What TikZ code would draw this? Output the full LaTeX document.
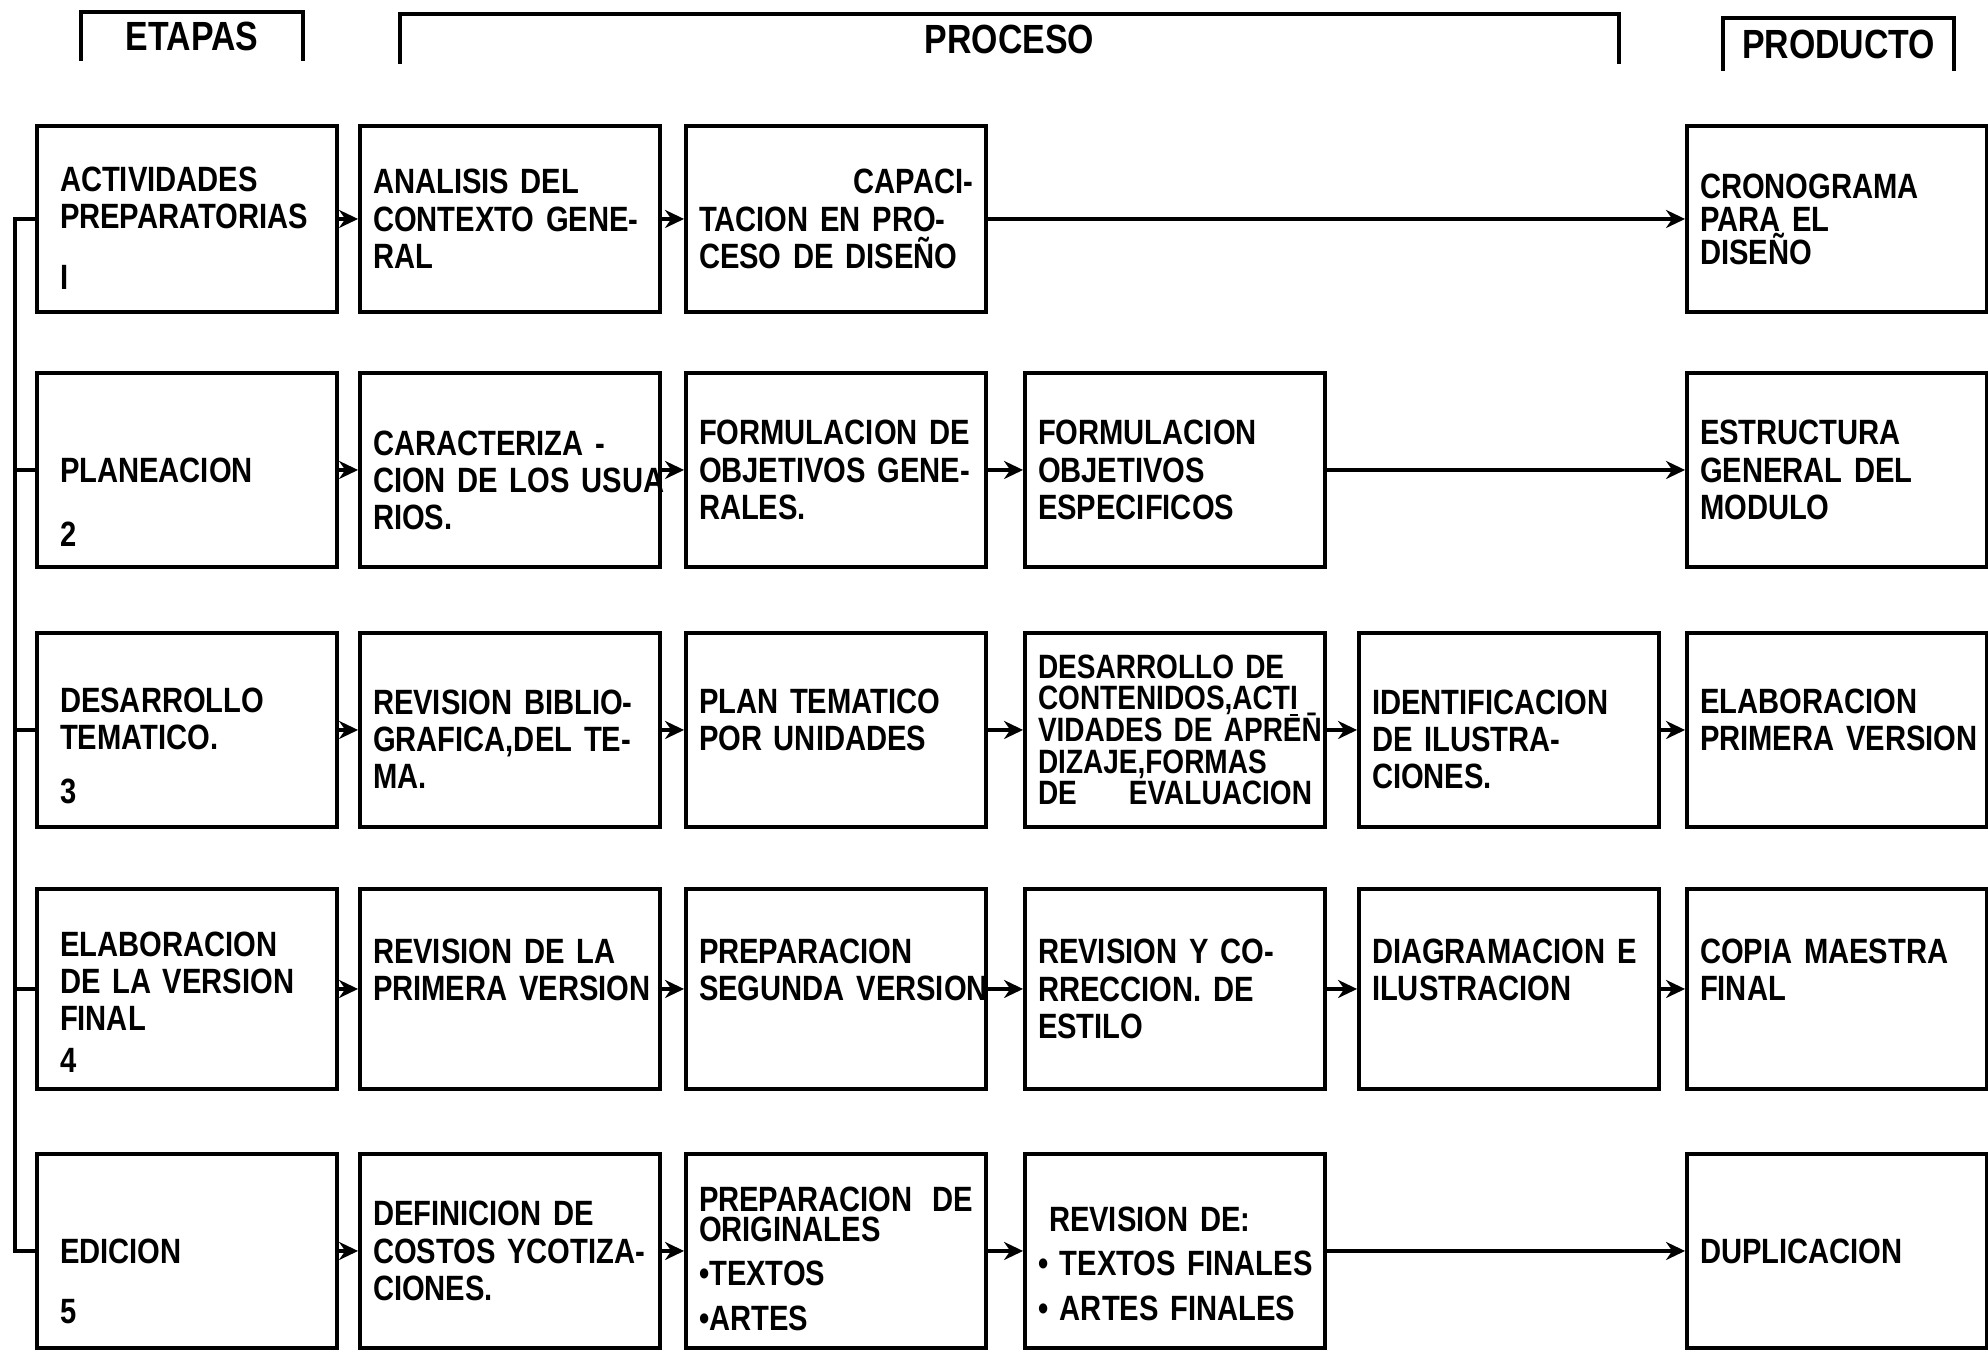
\documentclass[tikz,border=0pt]{standalone}
\usepackage{fontspec}
\usetikzlibrary{arrows.meta}
\newfontfamily\boxfont{Liberation Sans}[FakeStretch=0.83]
\uchyph=0
\hyphenpenalty=10000

\tikzset{
    box/.style={draw, line width=1.1pt, minimum height=1.94cm, text width=2.74cm,
        inner xsep=0.13cm, align=left, font=\boxfont\bfseries\fontsize{10}{10.6}\selectfont},
    etapa/.style={box, text width=2.54cm, inner xsep=0.23cm},
    num/.style={anchor=south west, inner sep=0pt, font=\boxfont\bfseries\fontsize{10}{10.6}\selectfont},
    head/.style={inner sep=0pt, font=\boxfont\bfseries\fontsize{11.6}{12}\selectfont},
    flow/.style={line width=1pt, -{Stealth[length=1.9mm,width=1.8mm]}},
    bus/.style={line width=1.1pt},
}

\begin{document}
\begin{tikzpicture}

    \useasboundingbox (0,0) rectangle (19.88,13.52);

    % encabezados
    \node[head, minimum width=2.2cm, minimum height=0.47cm] (hE) at (1.92,13.155) {ETAPAS};
    \node[head, minimum width=12.17cm, minimum height=0.48cm] (hP) at (10.095,13.13) {PROCESO};
    \node[head, minimum width=2.29cm, minimum height=0.51cm] (hR) at (18.385,13.075) {PRODUCTO};
    \draw[bus] (hE.south west) |- (hE.north east) -- (hE.south east);
    \draw[bus] (hP.south west) |- (hP.north east) -- (hP.south east);
    \draw[bus] (hR.south west) |- (hR.north east) -- (hR.south east);

    % fila 1
    \node[etapa, minimum height=1.86cm, text depth=0.8cm] (E1) at (1.87,11.33) {ACTIVIDADES\\PREPARATORIAS};
    \node[box, minimum height=1.86cm] (P11) at (5.10,11.33) {ANALISIS~DEL\\CONTEXTO~GENE-\\RAL};
    \node[box, minimum height=1.86cm] (P12) at (8.36,11.33) {\hfill CAPACI-\\TACION~EN~PRO-\\CESO~DE~DISEÑO};
    \node[box, minimum height=1.86cm, font=\boxfont\bfseries\fontsize{10}{9.4}\selectfont] (R1) at (18.37,11.33)
        {CRONOGRAMA\\PARA~EL\\DISEÑO};

    % fila 2
    \node[etapa] (E2) at (1.87,8.82) {PLANEACION};
    \node[box] (P21) at (5.10,8.82) {\rule{0pt}{0.45cm}CARACTERIZA~-\\CION~DE~LOS~USUA\\RIOS.};
    \node[box] (P22) at (8.36,8.82) {FORMULACION~DE\\OBJETIVOS~GENE-\\RALES.};
    \node[box] (P23) at (11.75,8.82) {FORMULACION\\OBJETIVOS\\ESPECIFICOS};
    \node[box] (R2) at (18.37,8.82) {ESTRUCTURA\\GENERAL~DEL\\MODULO};

    % fila 3
    \node[etapa, text depth=0.6cm] (E3) at (1.87,6.22) {DESARROLLO\\TEMATICO.};
    \node[box] (P31) at (5.10,6.22) {\rule{0pt}{0.43cm}REVISION~BIBLIO-\\GRAFICA,DEL~TE-\\MA.};
    \node[box, text depth=0.57cm] (P32) at (8.36,6.22) {PLAN~TEMATICO\\POR~UNIDADES};
    \node[box, font=\boxfont\bfseries\fontsize{9.6}{9}\selectfont] (P33) at (11.75,6.22)
        {DESARROLLO~DE\\CONTENIDOS,ACT\smash{\underline{I}}\\VIDADES~DE~APRE\smash{\=N}\\DIZAJE,FORMAS\\DE\hfill EVALUACION};
    \node[box] (P34) at (15.09,6.22) {\rule{0pt}{0.43cm}IDENTIFICACION\\DE~ILUSTRA-\\CIONES.};
    \node[box, text depth=0.57cm] (R3) at (18.37,6.22) {ELABORACION\\PRIMERA~VERSION};

    % fila 4
    \node[etapa, minimum height=2.0cm, text depth=0.9cm] (E4) at (1.87,3.63) {ELABORACION\\DE~LA~VERSION\\FINAL};
    \node[box, minimum height=2.0cm, text depth=0.75cm] (P41) at (5.10,3.63) {REVISION~DE~LA\\PRIMERA~VERSION};
    \node[box, minimum height=2.0cm, text depth=0.75cm] (P42) at (8.36,3.63) {PREPARACION\\SEGUNDA~VERSION};
    \node[box, minimum height=2.0cm] (P43) at (11.75,3.63) {REVISION~Y~CO-\\RRECCION.~DE\\ESTILO};
    \node[box, minimum height=2.0cm, text depth=0.75cm] (P44) at (15.09,3.63) {DIAGRAMACION~E\\ILUSTRACION};
    \node[box, minimum height=2.0cm, text depth=0.75cm] (R4) at (18.37,3.63) {COPIA~MAESTRA\\FINAL};

    % fila 5
    \node[etapa] (E5) at (1.87,1.01) {EDICION};
    \node[box] (P51) at (5.10,1.01) {DEFINICION~DE\\COSTOS~YCOTIZA-\\CIONES.};
    \node[box] (P52) at (8.36,1.01) {\rule{0pt}{0.4cm}PREPARACION\hfill DE\\[-2pt]ORIGINALES\\[2pt]•TEXTOS\\[2pt]•ARTES};
    \node[box] (P53) at (11.75,1.01)
        {\rule{0pt}{0.5cm}\hspace*{0.11cm}REVISION~DE:\\[2pt]•~TEXTOS~FINALES\\[2pt]•~ARTES~FINALES};
    \node[box] (R5) at (18.37,1.01) {DUPLICACION};

    % numeros de etapa
    \node[num] (n1) at ([shift={(0.25,0.24)}]E1.south west) {I};
    \node[num] (n2) at ([shift={(0.25,0.22)}]E2.south west) {2};
    \node[num] (n3) at ([shift={(0.25,0.24)}]E3.south west) {3};
    \node[num] (n4) at ([shift={(0.25,0.18)}]E4.south west) {4};
    \node[num] (n5) at ([shift={(0.25,0.25)}]E5.south west) {5};

    % linea de etapas
    \coordinate (bus) at (0.15,0);
    \draw[bus] (E1.west) -- (E1.west -| bus) -- (E5.west -| bus) -- (E5.west);
    \draw[bus] (E2.west) -- (E2.west -| bus);
    \draw[bus] (E3.west) -- (E3.west -| bus);
    \draw[bus] (E4.west) -- (E4.west -| bus);

    \draw[flow] (E1) -- (P11);
    \draw[flow] (P11) -- (P12);
    \draw[flow] (P12) -- (R1);

    \draw[flow] (E2) -- (P21);
    \draw[flow] (P21) -- (P22);
    \draw[flow] (P22) -- (P23);
    \draw[flow] (P23) -- (R2);

    \draw[flow] (E3) -- (P31);
    \draw[flow] (P31) -- (P32);
    \draw[flow] (P32) -- (P33);
    \draw[flow] (P33) -- (P34);
    \draw[flow] (P34) -- (R3);

    \draw[flow] (E4) -- (P41);
    \draw[flow] (P41) -- (P42);
    \draw[flow] (P42) -- (P43);
    \draw[flow] (P43) -- (P44);
    \draw[flow] (P44) -- (R4);

    \draw[flow] (E5) -- (P51);
    \draw[flow] (P51) -- (P52);
    \draw[flow] (P52) -- (P53);
    \draw[flow] (P53) -- (R5);

\end{tikzpicture}
\end{document}
